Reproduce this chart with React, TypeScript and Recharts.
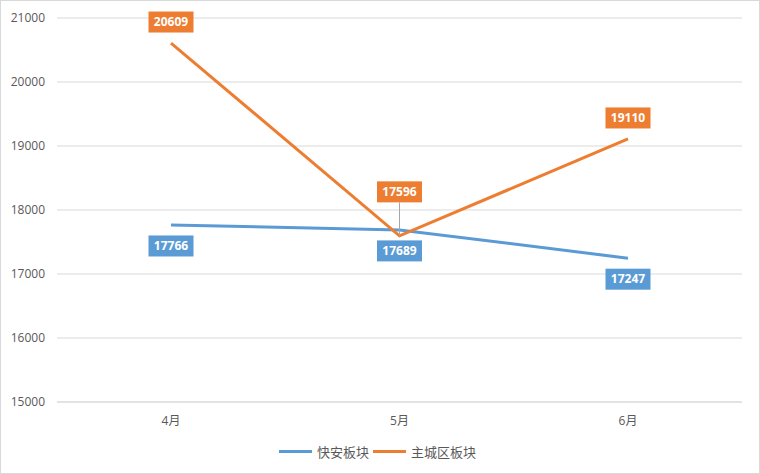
import { LineChart, Line, XAxis, YAxis, CartesianGrid, LabelList } from "recharts";

const months = ["4月", "5月", "6月"];
const kuaianValues = [17766, 17689, 17247];
const mainCityValues = [20609, 17596, 19110];
const yTicks = [15000, 16000, 17000, 18000, 19000, 20000, 21000];

const BLUE = "#5B9BD5";
const ORANGE = "#ED7D31";
const FONT = "'Open Sans', 'Noto Sans CJK SC', sans-serif";

const data = months.map((m, i) => ({
  month: m,
  kuaian: kuaianValues[i],
  mainCity: mainCityValues[i],
}));

// boxed data label, Excel style
function boxLabel(color: string, where: "above" | "below") {
  return (props: any) => {
    const { x, y, value, index } = props;
    if (x == null || y == null) return null;
    const w = 45;
    const h = 21;
    let cy = where === "above" ? y - 21 : y + 21;
    // the May label of 主城区 sits further up with a leader line
    const leader = where === "above" && index === 1;
    if (leader) cy = y - 44;
    return (
      <g>
        {leader && <line x1={x} y1={cy + h / 2} x2={x} y2={y} stroke="#a6a6a6" strokeWidth={1} />}
        <rect x={x - w / 2} y={cy - h / 2} width={w} height={h} fill={color} />
        <text
          x={x}
          y={cy}
          dy="0.35em"
          textAnchor="middle"
          fill="#fff"
          fontSize={12}
          fontWeight="bold"
          fontFamily={FONT}
        >
          {value}
        </text>
      </g>
    );
  };
}

export default function App() {
  return (
    <div
      style={{
        position: "absolute",
        top: 0,
        left: 0,
        width: 760,
        height: 474,
        background: "#fff",
        border: "1px solid #d9d9d9",
        boxSizing: "border-box",
        fontFamily: FONT,
      }}
    >
      <div style={{ position: "absolute", top: -1, left: -1 }}>
        <LineChart width={760} height={474} data={data} margin={{ top: 18, right: 18, bottom: 42, left: 0 }}>
          <CartesianGrid vertical={false} stroke="#d9d9d9" strokeWidth={1} />
          <XAxis
            dataKey="month"
            padding={{ left: 114, right: 114 }}
            axisLine={{ stroke: "#d9d9d9" }}
            tickLine={false}
            tickMargin={8}
            tick={{ fontSize: 12, fill: "#595959", fontFamily: FONT }}
            height={30}
          />
          <YAxis
            domain={[15000, 21000]}
            ticks={yTicks}
            width={57}
            axisLine={false}
            tickLine={false}
            tickMargin={6}
            tick={{ fontSize: 12, fill: "#595959", fontFamily: FONT }}
          />
          <Line
            type="linear"
            dataKey="kuaian"
            stroke={BLUE}
            strokeWidth={3}
            dot={false}
            isAnimationActive={false}
          >
            <LabelList dataKey="kuaian" content={boxLabel(BLUE, "below")} />
          </Line>
          <Line
            type="linear"
            dataKey="mainCity"
            stroke={ORANGE}
            strokeWidth={3}
            dot={false}
            isAnimationActive={false}
          >
            <LabelList dataKey="mainCity" content={boxLabel(ORANGE, "above")} />
          </Line>
        </LineChart>
      </div>
      <div
        style={{
          position: "absolute",
          top: 441,
          left: 278,
          display: "flex",
          alignItems: "center",
          fontSize: 13,
          color: "#595959",
          fontFamily: FONT,
        }}
      >
        <span style={{ display: "inline-block", width: 33, height: 3, background: BLUE, marginRight: 5 }} />
        <span style={{ marginRight: 4 }}>快安板块</span>
        <span style={{ display: "inline-block", width: 33, height: 3, background: ORANGE, marginRight: 5 }} />
        <span>主城区板块</span>
      </div>
    </div>
  );
}
